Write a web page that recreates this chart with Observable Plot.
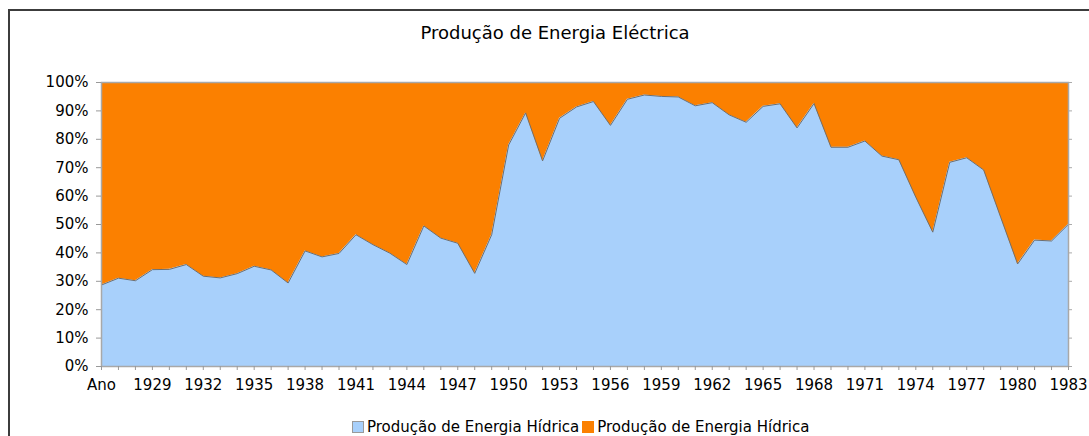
<!DOCTYPE html>
<html>
<head>
<meta charset="utf-8">
<script src="https://cdn.jsdelivr.net/npm/d3@7"></script>
<script src="https://cdn.jsdelivr.net/npm/@observablehq/plot@0.6"></script>
<style>
  html, body { margin: 0; padding: 0; background: #fff; }
  #wrap { position: relative; width: 1089px; height: 436px; overflow: hidden; font-family: "DejaVu Sans", Verdana, sans-serif; color: #000; }
  #frame { position: absolute; left: 8px; top: 9px; width: 2000px; height: 1000px; border-left: 2px solid #3c3c3c; border-top: 2px solid #3c3c3c; pointer-events: none; }
  #title { position: relative; height: 70px; box-sizing: border-box; padding-left: 21px; padding-top: 22px; text-align: center; font-size: 18px; line-height: 22px; }
  #chart { position: relative; height: 330px; }
  #legend { position: absolute; left: 352px; top: 418px; display: flex; align-items: center; font-size: 15px; line-height: 18px; }
  .sw { display: inline-block; width: 12px; height: 12px; box-sizing: border-box; margin-right: 3px; }
  .item { display: flex; align-items: center; margin-right: 3px; }
</style>
</head>
<body>
<div id="wrap">
  <div id="frame"></div>
  <div id="title"></div>
  <div id="chart"></div>
  <div id="legend"></div>
</div>
<script>
const chartTitle = "Produção de Energia Eléctrica";
const seriesNames = ["Produção de Energia Hídrica", "Produção de Energia Hídrica"];
const seriesColors = ["#a8d0fb", "#fb8000"];

// Categories: first category is labelled "Ano" in the original (1926), then 1927..1983
const years = [
  1926, 1927, 1928, 1929, 1930, 1931, 1932, 1933, 1934, 1935,
  1936, 1937, 1938, 1939, 1940, 1941, 1942, 1943, 1944, 1945,
  1946, 1947, 1948, 1949, 1950, 1951, 1952, 1953, 1954, 1955,
  1956, 1957, 1958, 1959, 1960, 1961, 1962, 1963, 1964, 1965,
  1966, 1967, 1968, 1969, 1970, 1971, 1972, 1973, 1974, 1975,
  1976, 1977, 1978, 1979, 1980, 1981, 1982, 1983
];

// Share (%) of the first (light blue) series
const hydro = [
  28.7, 31.1, 30.2, 34.1, 34.2, 35.9, 31.8, 31.2, 32.7, 35.3,
  34.0, 29.4, 40.7, 38.6, 39.8, 46.4, 42.9, 39.9, 35.9, 49.5,
  45.2, 43.4, 32.8, 46.4, 78.0, 89.3, 72.4, 87.4, 91.4, 93.3,
  84.9, 94.1, 95.6, 95.1, 94.9, 91.8, 92.9, 88.6, 86.0, 91.6,
  92.5, 84.0, 92.6, 77.2, 77.2, 79.4, 74.1, 72.8, 59.6, 47.3,
  71.9, 73.5, 69.2, 52.6, 36.1, 44.5, 44.2, 50.1
];
// Share (%) of the second (orange) series
const other = hydro.map(v => +(100 - v).toFixed(1));

const tickYears = [1926, 1929, 1932, 1935, 1938, 1941, 1944, 1947, 1950, 1953, 1956, 1959, 1962, 1965, 1968, 1971, 1974, 1977, 1980, 1983];
const tickLabels = ["Ano", "1929", "1932", "1935", "1938", "1941", "1944", "1947", "1950", "1953", "1956", "1959", "1962", "1965", "1968", "1971", "1974", "1977", "1980", "1983"];
const yTicks = [0, 10, 20, 30, 40, 50, 60, 70, 80, 90, 100];

const rows = [];
years.forEach((yr, i) => {
  rows.push({year: yr, key: "s0", value: hydro[i]});
  rows.push({year: yr, key: "s1", value: other[i]});
});
const hydroRows = years.map((yr, i) => ({year: yr, value: hydro[i]}));

document.getElementById("title").textContent = chartTitle;

const plot = Plot.plot({
  width: 1089,
  height: 330,
  marginTop: 12,
  marginLeft: 101,
  marginRight: 21,
  marginBottom: 34,
  style: {fontFamily: "'DejaVu Sans', Verdana, sans-serif", fontSize: "15px", color: "#000", background: "transparent", overflow: "visible"},
  x: {type: "linear", domain: [1926, 1983]},
  y: {domain: [0, 100]},
  color: {domain: ["s0", "s1"], range: seriesColors},
  marks: [
    Plot.areaY(rows, Plot.stackY({x: "year", y: "value", fill: "key", order: ["s0", "s1"], curve: "linear"})),
    Plot.lineY(hydroRows, {x: "year", y: "value", stroke: "#6e6e6e", strokeWidth: 1}),
    Plot.frame({stroke: "#a8a8a8", strokeWidth: 1.5}),
    Plot.axisX({ticks: years, tickSize: 4, tickFormat: () => "", stroke: "#999", label: null}),
    Plot.axisX({ticks: tickYears, tickSize: 0, tickPadding: 13, tickFormat: d => tickLabels[tickYears.indexOf(d)], fill: "#000", label: null}),
    Plot.axisY({ticks: yTicks, tickSize: 5, tickPadding: 8, tickFormat: d => d + "%", stroke: "#999", fill: "#000", label: null}),
    Plot.axisY({anchor: "right", ticks: yTicks, tickSize: 3, tickFormat: () => "", stroke: "#aaa", label: null})
  ]
});
document.getElementById("chart").appendChild(plot);

const legend = document.getElementById("legend");
seriesNames.forEach((name, i) => {
  const item = document.createElement("span");
  item.className = "item";
  const sw = document.createElement("span");
  sw.className = "sw";
  sw.style.background = seriesColors[i];
  if (i === 0) sw.style.border = "1px solid #9a9a9a";
  item.appendChild(sw);
  const t = document.createElement("span");
  t.textContent = name;
  item.appendChild(t);
  legend.appendChild(item);
});
</script>
</body>
</html>
